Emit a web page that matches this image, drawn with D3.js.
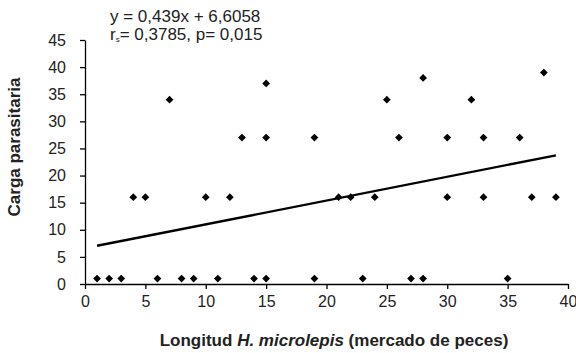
<!DOCTYPE html>
<html>
<head>
<meta charset="utf-8">
<script src="https://cdn.jsdelivr.net/npm/d3@7"></script>
<style>
  body { margin: 0; background: #fff; }
  svg { display: block; font-family: "Liberation Sans", Arial, sans-serif; }
</style>
</head>
<body>
<svg id="chart" width="576" height="353"></svg>
<script>
// longitud (x) y carga parasitaria (y)
const longitud = [1, 2, 3, 6, 8, 9, 11, 14, 15, 19, 23, 27, 28, 35,
                  4, 5, 10, 12, 21, 22, 24, 30, 33, 37, 39,
                  13, 15, 19, 26, 30, 33, 36,
                  7, 25, 32,
                  15, 28, 38];
const carga = [1, 1, 1, 1, 1, 1, 1, 1, 1, 1, 1, 1, 1, 1,
               16, 16, 16, 16, 16, 16, 16, 16, 16, 16, 16,
               27, 27, 27, 27, 27, 27, 27,
               34, 34, 34,
               37, 38, 39];
const xTicks = [0, 5, 10, 15, 20, 25, 30, 35, 40];
const yTicks = [0, 5, 10, 15, 20, 25, 30, 35, 40, 45];
const slope = 0.439, intercept = 6.6058;
const fitRange = [1, 39];

const svg = d3.select('#chart');
const margin = {left: 85, right: 8, top: 40, bottom: 69};
const width = 576, height = 353;

const x = d3.scaleLinear().domain([0, 40]).range([margin.left, width - margin.right]);
const y = d3.scaleLinear().domain([0, 45]).range([height - margin.bottom, margin.top]);

const xAxis = svg.append('g')
    .attr('transform', `translate(0,${y(0)})`)
    .call(d3.axisBottom(x).tickValues(xTicks).tickSize(5).tickSizeOuter(0).tickPadding(7));
const yAxis = svg.append('g')
    .attr('transform', `translate(${x(0)},0)`)
    .call(d3.axisLeft(y).tickValues(yTicks).tickSize(5).tickSizeOuter(0).tickPadding(14));

[xAxis, yAxis].forEach(g => {
    g.selectAll('path, line').attr('stroke', '#000').attr('stroke-width', 1.3);
    g.selectAll('text').attr('font-size', 16).attr('fill', '#222')
        .attr('font-family', '"Liberation Sans", Arial, sans-serif');
});

// linea de tendencia
svg.append('line')
    .attr('x1', x(fitRange[0])).attr('y1', y(slope * fitRange[0] + intercept))
    .attr('x2', x(fitRange[1])).attr('y2', y(slope * fitRange[1] + intercept))
    .attr('stroke', '#000').attr('stroke-width', 2.4);

const diamond = d3.symbol().type(d3.symbolSquare).size(30);
svg.append('g').selectAll('path')
    .data(longitud.map((d, i) => ({lx: d, cy: carga[i]})))
    .join('path')
    .attr('d', diamond)
    .attr('transform', d => `translate(${x(d.lx)},${y(d.cy)}) rotate(45)`)
    .attr('fill', '#000');

// titulos
const xt = svg.append('text')
    .attr('x', 334).attr('y', 346)
    .attr('text-anchor', 'middle')
    .attr('font-size', 17).attr('font-weight', 'bold').attr('fill', '#222');
xt.append('tspan').text('Longitud ');
xt.append('tspan').attr('font-style', 'italic').text('H. microlepis');
xt.append('tspan').text(' (mercado de peces)');

svg.append('text')
    .attr('transform', 'translate(20,147) rotate(-90)')
    .attr('text-anchor', 'middle')
    .attr('font-size', 17).attr('font-weight', 'bold').attr('fill', '#222')
    .text('Carga parasitaria');

// ecuacion
svg.append('text')
    .attr('x', 110).attr('y', 22)
    .attr('font-size', 17).attr('fill', '#222')
    .text('y = 0,439x + 6,6058');
const r = svg.append('text')
    .attr('x', 110).attr('y', 40)
    .attr('font-size', 17).attr('fill', '#222');
r.append('tspan').text('r');
r.append('tspan').attr('font-size', 8).attr('dy', 2).text('s');
r.append('tspan').attr('dy', -2).text('= 0,3785, p= 0,015');
</script>
</body>
</html>
